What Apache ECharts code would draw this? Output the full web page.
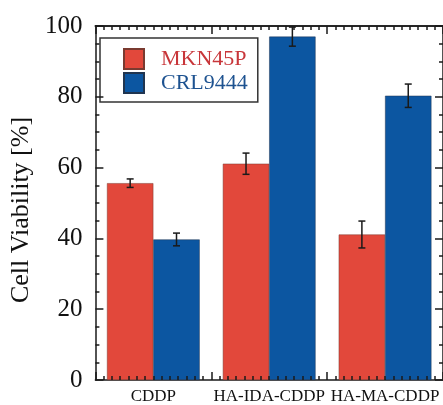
<!DOCTYPE html>
<html>
<head>
<meta charset="utf-8">
<script src="https://cdn.jsdelivr.net/npm/echarts@6/dist/echarts.min.js"></script>
<style>html,body{margin:0;padding:0;background:#fff}#c{width:443px;height:405px}</style>
</head>
<body>
<div id="c"></div>
<script>
const categories = ['CDDP', 'HA-IDA-CDDP', 'HA-MA-CDDP'];
const mknValues = [55.6, 61.1, 41.1];
const mknErrors = [1.2, 3.0, 3.8];
const crlValues = [39.7, 97.0, 80.3];
const crlErrors = [1.8, 2.7, 3.3];
const seriesNames = ['MKN45P', 'CRL9444'];
// x tick marks: 14 minor divisions per category band
const minorPerBand = 14;
const xTickSlots = Array.from({ length: categories.length * minorPerBand + 1 }, (_, i) => String(i));

const FONT = 'Liberation Serif';
const RED = '#e2483b';
const BLUE = '#0c56a1';
const AX = '#1a1a1a';

function errData(vals, errs) { return vals.map((v, i) => [i, v, errs[i]]); }
function errRender(side) {
  return function (params, api) {
    const ci = api.value(0), v = api.value(1), e = api.value(2);
    const band = api.size([1, 0])[0];
    const top = api.coord([ci, v + e]);
    const bot = api.coord([ci, v - e]);
    const x = top[0] + side * band * 0.2;
    const cap = 3.5;
    const st = { stroke: AX, lineWidth: 1.5 };
    return { type: 'group', children: [
      { type: 'line', shape: { x1: x, y1: top[1], x2: x, y2: bot[1] }, style: st },
      { type: 'line', shape: { x1: x - cap, y1: top[1], x2: x + cap, y2: top[1] }, style: st },
      { type: 'line', shape: { x1: x - cap, y1: bot[1], x2: x + cap, y2: bot[1] }, style: st }
    ] };
  };
}

const tickAxisX = (pos, showLine, major) => ({
  type: 'category', data: xTickSlots, boundaryGap: false, position: pos, gridIndex: 0, offset: 0, z: 6,
  axisLine: { show: showLine, lineStyle: { color: AX, width: 1.5 } },
  axisTick: { show: true, inside: true, length: major ? 8 : 4,
    interval: major ? (i) => i % minorPerBand === 0 : 0,
    lineStyle: { color: AX, width: 1.5 } },
  axisLabel: { show: false }, splitLine: { show: false }
});

const chart = echarts.init(document.getElementById('c'), null, { renderer: 'canvas' });
chart.setOption({
  animation: false,
  backgroundColor: '#fff',
  grid: { left: 90, top: 26, width: 356, height: 355 },
  legend: {
    orient: 'vertical', left: 100, top: 38,
    data: [
      { name: seriesNames[0], textStyle: { color: '#c8363a' } },
      { name: seriesNames[1], textStyle: { color: '#1d5290' } }
    ],
    icon: 'rect', itemWidth: 20, itemHeight: 20, itemGap: 2,
    padding: [10, 10, 8, 23],
    borderColor: '#333', borderWidth: 1.5,
    textStyle: { fontFamily: FONT, fontSize: 22, lineHeight: 20, padding: [0, 0, 0, 12] }
  },
  xAxis: [
    {
      type: 'category', data: categories, position: 'bottom',
      axisLine: { show: true, lineStyle: { color: AX, width: 1.5 } },
      axisTick: { show: false },
      axisLabel: { fontFamily: FONT, fontSize: 17, color: '#111', margin: 8, interval: 0 },
      splitLine: { show: false }
    },
    tickAxisX('bottom', false, false),
    tickAxisX('bottom', false, true),
    tickAxisX('top', true, false),
    tickAxisX('top', true, true)
  ],
  yAxis: [
    {
      type: 'value', min: 0, max: 100, interval: 20, position: 'left', z: 6,
      name: 'Cell Viability [%]', nameLocation: 'middle', nameGap: 59,
      nameTextStyle: { fontFamily: FONT, fontSize: 26, color: '#111', padding: [0, 14, 0, 0] },
      axisLine: { show: true, lineStyle: { color: AX, width: 1.5 } },
      axisTick: { show: true, inside: true, length: 8, lineStyle: { color: AX, width: 1.5 } },
      minorTick: { show: true, splitNumber: 4, length: 4, lineStyle: { color: AX, width: 1.5 } },
      axisLabel: { fontFamily: FONT, fontSize: 25, color: '#111', margin: 13 },
      splitLine: { show: false }
    },
    {
      type: 'value', min: 0, max: 100, interval: 20, position: 'right', z: 6,
      axisLine: { show: true, lineStyle: { color: AX, width: 1.5 } },
      axisTick: { show: true, inside: true, length: 8, lineStyle: { color: AX, width: 1.5 } },
      minorTick: { show: true, splitNumber: 4, length: 4, lineStyle: { color: AX, width: 1.5 } },
      axisLabel: { show: false },
      splitLine: { show: false }
    }
  ],
  series: [
    { name: seriesNames[0], type: 'bar', data: mknValues, barGap: 0, barCategoryGap: '20%',
      itemStyle: { color: RED, borderColor: '#7a3a30', borderWidth: 0.5 } },
    { name: seriesNames[1], type: 'bar', data: crlValues, barGap: 0, barCategoryGap: '20%',
      itemStyle: { color: BLUE, borderColor: '#203550', borderWidth: 0.5 } },
    { name: 'errMKN', type: 'custom', renderItem: errRender(-1), data: errData(mknValues, mknErrors), z: 5 },
    { name: 'errCRL', type: 'custom', renderItem: errRender(1), data: errData(crlValues, crlErrors), z: 5 }
  ]
});
</script>
</body>
</html>
